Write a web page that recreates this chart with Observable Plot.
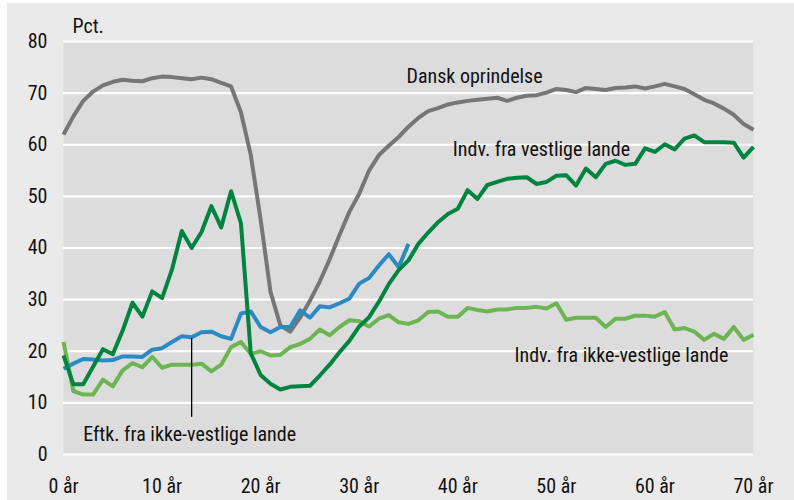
<!DOCTYPE html>
<html><head><meta charset="utf-8">
<script src="https://cdn.jsdelivr.net/npm/d3@7"></script>
<script src="https://cdn.jsdelivr.net/npm/@observablehq/plot@0.6"></script>
<style>
html,body{margin:0;padding:0;background:#fff;}
#wrap{position:absolute;left:7px;top:3px;width:787px;height:497px;background:#eaeaea;}
</style></head><body><div id="wrap"></div>
<script>
const ages = [0,1,2,3,4,5,6,7,8,9,10,11,12,13,14,15,16,17,18,19,20,21,22,23,24,25,26,27,28,29,30,31,32,33,34,35,36,37,38,39,40,41,42,43,44,45,46,47,48,49,50,51,52,53,54,55,56,57,58,59,60,61,62,63,64,65,66,67,68,69,70];

const danskOprindelse = [62.0,65.5,68.5,70.3,71.5,72.2,72.6,72.4,72.3,72.9,73.2,73.1,72.9,72.7,73.0,72.7,72.0,71.3,66.3,58.0,45.5,31.5,25.0,23.8,26.5,29.8,33.5,37.8,42.5,47.0,50.5,55.0,58.0,59.8,61.5,63.5,65.2,66.5,67.1,67.8,68.2,68.5,68.7,68.9,69.1,68.5,69.1,69.5,69.6,70.1,70.8,70.6,70.2,71.0,70.8,70.6,71.0,71.1,71.3,70.9,71.3,71.8,71.3,70.8,69.8,68.7,68.0,67.0,65.8,64.0,62.9];

const indvVestlige = [19.2,13.6,13.6,17.0,20.4,19.4,24.0,29.4,26.7,31.6,30.3,35.8,43.3,40.0,43.1,48.1,44.0,51.0,44.8,19.6,15.4,13.7,12.6,13.1,13.2,13.3,15.3,17.4,19.8,22.0,24.8,26.6,29.6,33.0,35.7,37.6,40.8,43.0,45.0,46.6,47.6,51.2,49.5,52.2,52.8,53.4,53.6,53.7,52.4,52.8,54.0,54.1,52.1,55.4,53.7,56.3,56.9,56.1,56.3,59.3,58.6,60.1,59.1,61.2,61.8,60.5,60.5,60.5,60.4,57.5,59.6];

const indvIkkeVestlige = [21.8,12.3,11.6,11.6,14.5,13.2,16.3,17.7,16.9,18.9,16.8,17.4,17.4,17.4,17.6,16.1,17.4,20.8,21.8,19.5,20.0,19.2,19.3,20.8,21.4,22.4,24.2,23.1,24.7,26.0,25.8,24.8,26.3,27.0,25.6,25.3,26.0,27.6,27.7,26.7,26.7,28.4,28.0,27.7,28.1,28.1,28.4,28.4,28.6,28.3,29.3,26.1,26.5,26.5,26.5,24.7,26.3,26.3,26.9,26.9,26.7,27.6,24.2,24.5,23.8,22.2,23.4,22.4,24.7,22.2,23.2];

const eftkIkkeVestlige = [16.6,17.6,18.5,18.4,18.2,18.3,19.0,19.0,18.9,20.3,20.6,21.8,22.9,22.7,23.7,23.8,22.9,22.4,27.3,27.7,24.7,23.7,24.7,24.7,27.9,26.5,28.7,28.5,29.3,30.2,33.1,34.2,36.6,38.8,36.3,40.8];

const seriesNames = ["Dansk oprindelse","Indv. fra ikke-vestlige lande","Eftk. fra ikke-vestlige lande","Indv. fra vestlige lande"];
const seriesValues = [danskOprindelse, indvIkkeVestlige, eftkIkkeVestlige, indvVestlige];
const seriesColors = ["#767676","#6cb552","#2b8ac3","#00843f"];

const xTicks = [0,10,20,30,40,50,60,70];
const yTicks = [0,10,20,30,40,50,60,70,80];

const labelTexts = ["Dansk oprindelse","Indv. fra vestlige lande","Indv. fra ikke-vestlige lande","Eftk. fra ikke-vestlige lande"];
const labelAges = [34.8, 39.5, 45.75, 2.0];
const labelValues = [71.9, 57.9, 18.0, 2.7];

const pointerAge = [13];
const pointerFrom = [7.2];
const pointerTo = [22.5];

const FONT = '"Liberation Sans Narrow","Arial Narrow","Roboto Condensed","Liberation Sans",sans-serif';

const lines = seriesNames.map((name, i) => {
  const data = seriesValues[i].map((v, j) => ({age: ages[j], value: v, series: name}));
  return Plot.line(data, {x: "age", y: "value", stroke: seriesColors[i], strokeWidth: 4, strokeLinejoin: "round", strokeLinecap: "butt"});
});

const labels = labelTexts.map((t, i) => ({text: t, age: labelAges[i], value: labelValues[i]}));
const pointer = pointerAge.map((a, i) => ({age: a, y1: pointerFrom[i], y2: pointerTo[i]}));

const chart = Plot.plot({
  width: 787, height: 497,
  marginLeft: 56, marginRight: 41, marginTop: 38, marginBottom: 46,
  style: {background: "transparent", fontFamily: FONT, fontSize: "20px", color: "#111"},
  x: {domain: [0, 70]},
  y: {domain: [0, 80]},
  marks: [
    Plot.frame({fill: "#dcdcdc", stroke: "none"}),
    Plot.gridY(yTicks, {stroke: "#fff", strokeOpacity: 1, strokeWidth: 2.2}),
    Plot.axisY(yTicks, {tickSize: 0, tickPadding: 16, label: null, fontSize: 20}),
    Plot.axisX(xTicks, {tickSize: 0, tickPadding: 24, label: null, fontSize: 20, tickFormat: d => `${d} år`}),
    ...lines,
    Plot.ruleX(pointer, {x: "age", y1: "y1", y2: "y2", stroke: "#000", strokeWidth: 1.3}),
    Plot.text(labels, {x: "age", y: "value", text: "text", textAnchor: "start", lineAnchor: "bottom", fill: "#111", fontSize: 20}),
    Plot.text(["Pct."], {frameAnchor: "top-left", dx: 9, dy: -9, lineAnchor: "bottom", textAnchor: "start", fill: "#111", fontSize: 20})
  ]
});
document.getElementById("wrap").appendChild(chart);
</script></body></html>
